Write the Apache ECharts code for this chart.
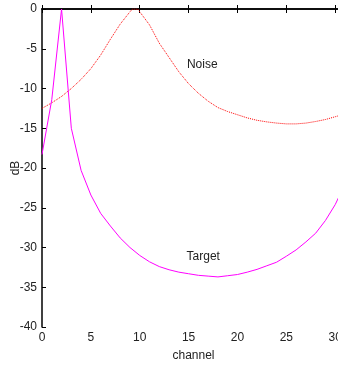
<!DOCTYPE html>
<html>
<head>
<meta charset="utf-8">
<script src="https://cdn.jsdelivr.net/npm/echarts@6/dist/echarts.min.js"></script>
<style>
  html, body { margin: 0; padding: 0; background: #fff; }
  #chart { width: 338px; height: 366px; }
</style>
</head>
<body>
<div id="chart"></div>
<script>
// channel positions and dB values
var noiseX = [0, 1, 2, 3, 4, 5, 6, 7, 8, 9, 9.25, 9.8, 10, 11, 12, 13, 14, 15, 16, 17, 18, 19, 20, 21, 22, 23, 24, 25, 26, 27, 28, 29, 30, 31];
var noiseDb = [-12.5, -11.8, -11.0, -10.0, -8.85, -7.5, -5.8, -3.8, -1.9, -0.35, 0, 0, -0.35, -2.0, -4.3, -6.1, -7.9, -9.4, -10.6, -11.6, -12.4, -12.9, -13.3, -13.7, -14.0, -14.2, -14.35, -14.45, -14.45, -14.35, -14.15, -13.9, -13.55, -13.2];

var targetX = [0, 1, 2, 3, 4, 5, 6, 7, 8, 9, 10, 11, 12, 13, 14, 15, 16, 17, 18, 19, 20, 21, 22, 23, 24, 25, 26, 27, 28, 29, 30, 31];
var targetDb = [-18.3, -11.4, 0, -15.0, -20.3, -23.4, -25.7, -27.3, -28.8, -30.0, -31.0, -31.8, -32.4, -32.8, -33.1, -33.3, -33.5, -33.6, -33.7, -33.55, -33.4, -33.1, -32.75, -32.3, -31.85, -31.1, -30.3, -29.3, -28.2, -26.6, -24.6, -22.0];

var xTicks = [0, 5, 10, 15, 20, 25, 30];
var yTicks = [0, -5, -10, -15, -20, -25, -30, -35, -40];

var noiseLabel = { text: 'Noise', x: 16.4, y: -7.0 };
var targetLabel = { text: 'Target', x: 16.5, y: -31.2 };

var font = "'Liberation Sans', Arial, sans-serif";

function pairs(xs, ys) {
    var out = [];
    for (var i = 0; i < xs.length; i++) out.push([xs[i], ys[i]]);
    return out;
}

var chart = echarts.init(document.getElementById('chart'));

var axisLine = { show: true, lineStyle: { color: '#000', width: 1.5 } };
var tick = { show: true, inside: true, length: 4, lineStyle: { color: '#000', width: 1 } };

chart.setOption({
    animation: false,
    backgroundColor: '#fff',
    grid: {
        left: 42,
        top: 9,
        bottom: 39,
        right: -7,
        containLabel: false,
        outerBoundsMode: 'none'
    },
    xAxis: [
        {
            type: 'value',
            min: 0,
            max: 31,
            interval: 5,
            position: 'bottom',
            name: 'channel',
            nameLocation: 'middle',
            nameGap: 23,
            nameMoveOverlap: false,
            nameTextStyle: { color: '#222', fontSize: 12, fontFamily: font },
            axisLine: axisLine,
            axisTick: tick,
            splitLine: { show: false },
            axisLabel: {
                color: '#222',
                fontSize: 12,
                fontFamily: font,
                margin: 5,
                formatter: function (v) { return xTicks.indexOf(v) >= 0 ? String(v) : ''; }
            }
        },
        {
            type: 'value',
            min: 0,
            max: 31,
            interval: 5,
            position: 'top',
            axisLine: axisLine,
            axisTick: tick,
            splitLine: { show: false },
            axisLabel: { show: false }
        }
    ],
    yAxis: {
        type: 'value',
        min: -40,
        max: 0,
        interval: 5,
        name: 'dB',
        nameLocation: 'middle',
        nameGap: 20,
        nameMoveOverlap: false,
        nameRotate: 90,
        nameTextStyle: { color: '#222', fontSize: 12, fontFamily: font },
        axisLine: axisLine,
        axisTick: tick,
        splitLine: { show: false },
        axisLabel: {
            color: '#222',
            fontSize: 12,
            fontFamily: font,
            margin: 5,
            formatter: function (v) { return yTicks.indexOf(v) >= 0 ? String(v) : ''; }
        }
    },
    series: [
        {
            name: 'Noise',
            type: 'line',
            data: pairs(noiseX, noiseDb),
            showSymbol: false,
            symbol: 'none',
            lineStyle: { color: '#ff0000', width: 1, type: 'dotted' },
            markPoint: {
                symbol: 'circle',
                symbolSize: 0,
                label: { show: true, formatter: noiseLabel.text, color: '#222', fontSize: 12, fontFamily: font },
                data: [{ coord: [noiseLabel.x, noiseLabel.y] }]
            }
        },
        {
            name: 'Target',
            type: 'line',
            data: pairs(targetX, targetDb),
            showSymbol: false,
            symbol: 'none',
            lineStyle: { color: '#ff00ff', width: 1 },
            markPoint: {
                symbol: 'circle',
                symbolSize: 0,
                label: { show: true, formatter: targetLabel.text, color: '#222', fontSize: 12, fontFamily: font },
                data: [{ coord: [targetLabel.x, targetLabel.y] }]
            }
        }
    ]
});
</script>
</body>
</html>
